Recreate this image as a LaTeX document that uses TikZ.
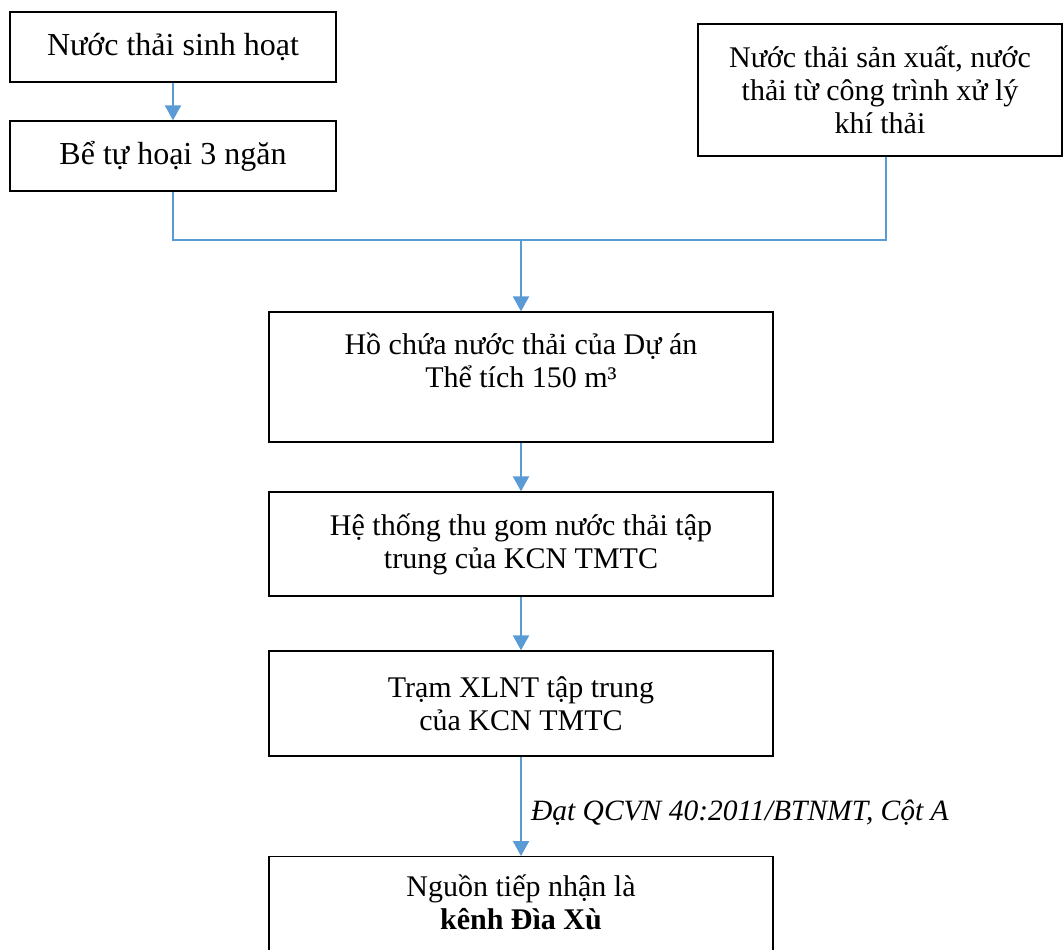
\documentclass[tikz,border=0pt]{standalone}
\usepackage{fontspec}
\setmainfont{Liberation Serif}
\usetikzlibrary{arrows.meta}
\definecolor{flowblue}{HTML}{5B9BD5}
\begin{document}
\begin{tikzpicture}[x=1pt,y=-1pt,
  box/.style={draw=black, line width=1.3pt, align=center, inner sep=0pt,
    font=\fontsize{30}{33}\selectfont},
  bigtext/.style={font=\fontsize{32}{35}\selectfont},
  plain/.style={align=center, inner sep=0pt, font=\fontsize{30}{33}\selectfont},
  flow/.style={draw=flowblue, line width=2.2pt, -{Triangle[width=16pt,length=15pt]}},
  feed/.style={draw=flowblue, line width=1.1pt},
  note/.style={font=\fontsize{29.5}{33}\selectfont\itshape, inner sep=0pt, anchor=west}]
\useasboundingbox (0,0) rectangle (1063,950);

% sources
\node[box, bigtext, minimum width=326, minimum height=70] (dom) at (173,47) {Nước thải sinh hoạt};
\node[box, bigtext, minimum width=326, minimum height=70] (septic) at (173,156) {Bể tự hoại 3 ngăn};
\node[box, minimum width=364, minimum height=132] (ind) at (880,90)
  {Nước thải sản xuất, nước\\thải từ công trình xử lý\\khí thải};

% main chain
\node[box, minimum width=504, minimum height=130] (pond) at (521,377)
  {Hồ chứa nước thải của Dự án\\Thể tích 150 m³\\\mbox{}};
\node[box, minimum width=504, minimum height=104] (sewer) at (521,544)
  {Hệ thống thu gom nước thải tập\\trung của KCN TMTC};
\node[box, minimum width=504, minimum height=105] (plant) at (521,703.5)
  {Trạm XLNT tập trung\\của KCN TMTC};
\node[box, minimum width=504, minimum height=106, anchor=north] (canal) at (521,856) {};
\node[plain] (canaltext) at (521,902) {Nguồn tiếp nhận là\\\textbf{kênh Đìa Xù}};

% connectors
\coordinate (join) at (521,240);
\draw[flow] (dom) -- (septic);
\draw[feed] (septic.south) |- (join);
\draw[feed] ([xshift=6pt]ind.south) |- (join);
\draw[flow] (join) -- (pond.north);
\draw[flow] (pond) -- (sewer);
\draw[flow] (sewer) -- (plant);
\draw[flow] (plant) -- (canal)
  node[note, pos=0.56, xshift=9pt] {Đạt QCVN 40:2011/BTNMT, Cột A};
\end{tikzpicture}
\end{document}
